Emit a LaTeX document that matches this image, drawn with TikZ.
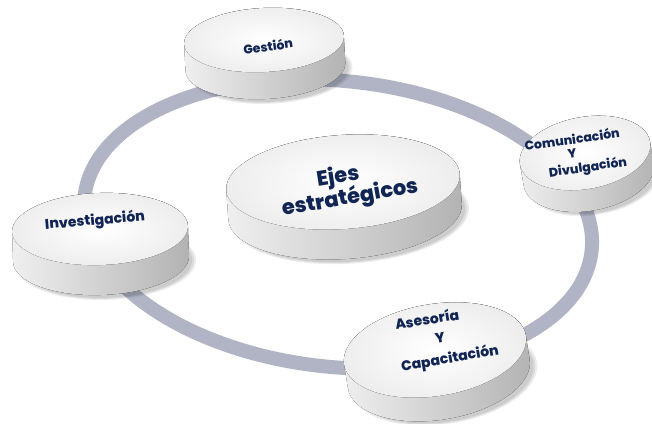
\documentclass[tikz,border=0pt]{standalone}
\usepackage{fontspec}
\setmainfont{Poppins}[BoldFont={Poppins ExtraBold}]
\definecolor{ringgray}{RGB}{176,180,197}
\definecolor{navytext}{RGB}{17,37,84}

\begin{document}
\begin{tikzpicture}[x=1pt,y=1pt,ring/.style={draw=ringgray, line width=14pt},discside/.style={left color=gray!12, right color=gray!60},discface/.style={inner color=white, outer color=gray!14},discshadow/.style={fill=black, opacity=0.07},every node/.style={text=navytext, font=\bfseries, inner sep=0pt},small/.style={font=\bfseries\fontsize{12.5}{14}\selectfont},big/.style={font=\bfseries\fontsize{21}{22}\selectfont}]
\useasboundingbox (0,0) rectangle (652,-423);
\draw[ring, rotate around={-6:(338,-224)}] (338,-224) ellipse[x radius=255, y radius=143];
\foreach \cx/\cy/\rx/\ry/\t/\a in {264/-40/80/32/27/3, 585/-153/66/36/22/10, 100/-229/88/36/30/2, 343/-182/117/47/30/4, 435/-350/92/46/24/9}
{
\begin{scope}[shift={(\cx,\cy)}, rotate=\a]
\foreach \s in {0,2,4}
  \fill[discshadow] (5,-\t-4) ellipse[x radius=\rx-2+\s, y radius=\ry-1+\s/2];
\fill[discside] (-\rx,0) -- (-\rx,-\t) arc[start angle=180, end angle=360, x radius=\rx, y radius=\ry] -- (\rx,0) arc[start angle=0, end angle=180, x radius=\rx, y radius=\ry] -- cycle;
\fill[discface] (0,0) ellipse[x radius=\rx, y radius=\ry];
\end{scope}
}
\node[small, rotate=8] (gestion) at (268,-46) {Gestión};
\node[small, rotate=8] (comunic) at (572,-139) {Comunicación};
\node[small, rotate=8] (comunicy) at (572,-154) {Y};
\node[small, rotate=8] (divulg) at (588,-168) {Divulgación};
\node[font=\bfseries\fontsize{14}{15}\selectfont, rotate=5] (invest) at (95,-221) {Investigación};
\node[big, rotate=9] (ejes) at (338,-177) {Ejes};
\node[big, rotate=10] (estrat) at (350,-198) {estratégicos};
\node[font=\bfseries\fontsize{14}{15}\selectfont, rotate=9] (asesor) at (427,-319) {Asesoría};
\node[font=\bfseries\fontsize{14}{15}\selectfont, rotate=9] (asesory) at (440,-338) {Y};
\node[font=\bfseries\fontsize{14}{15}\selectfont, rotate=10] (capacit) at (450,-359) {Capacitación};
\end{tikzpicture}
\end{document}
